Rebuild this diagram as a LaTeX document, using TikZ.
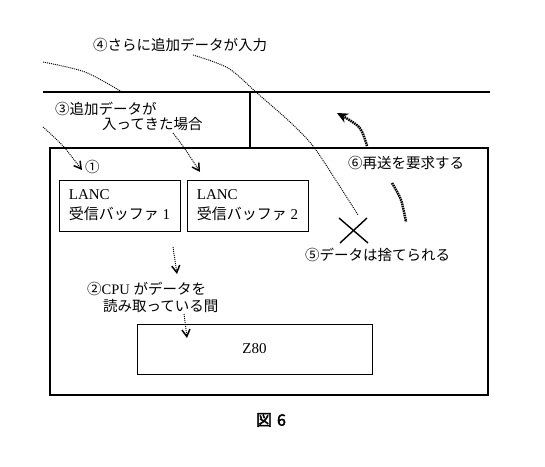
\documentclass[tikz,border=0pt]{standalone}
\usepackage{fontspec}
\setmainfont{Liberation Serif}
\newfontfamily\cjk{Noto Sans CJK JP}
\newfontfamily\cjkb[FakeBold=2.5]{Noto Sans CJK JP}
\usetikzlibrary{arrows.meta}
\begin{document}
\begin{tikzpicture}[x=1pt,y=-1pt,
  lbl/.style={anchor=west,inner sep=0pt,font=\fontsize{14.5}{18}\selectfont},
  bufbox/.style={draw,line width=0.9pt,minimum width=121pt,minimum height=51pt,align=left,inner sep=0pt,font=\fontsize{15}{20}\selectfont},
  cpubox/.style={draw,line width=0.9pt,minimum width=235pt,minimum height=50pt,inner sep=0pt,font=\fontsize{15}{18}\selectfont},
  thindot/.style={line width=0.95pt,dash pattern=on 1pt off 1pt},
  thickdot/.style={line width=2.5pt,dash pattern=on 1.5pt off 0.8pt},
  arr/.style={-{Straight Barb[length=7pt,width=8pt,line width=1.5pt]}},
  bigarr/.style={-{Stealth[length=11pt,width=10pt]}}]
\useasboundingbox (0,0) rectangle (545,466);
% frame lines
\coordinate (tl) at (43,92);
\coordinate (tr) at (490,92);
\coordinate (vt) at (250,92);
\coordinate (vb) at (250,148);
\draw[line width=2pt] (tl) -- (tr);
\draw[line width=2pt] (vt) -- (vb);
\node[draw,line width=2.6pt,minimum width=438pt,minimum height=247pt,inner sep=0pt] (main) at (269,271.5) {};
% buffers and CPU
\node[bufbox] (buf1) at (119.5,205.5) {LANC\\{\cjk 受信バッファ} 1};
\node[bufbox] (buf2) at (247.5,205.5) {LANC\\{\cjk 受信バッファ} 2};
\node[cpubox] (z80) at (254.5,349) {Z80};
% labels
\node[lbl] (l4) at (93,45) {\cjk ④さらに追加データが入力};
\node[lbl] (l3a) at (55,109) {\cjk ③追加データが};
\node[lbl] (l3b) at (102,124.5) {\cjk 入ってきた場合};
\node[lbl] (l1) at (85,167) {\cjk ①};
\node[lbl] (l2a) at (87,289) {{\cjk ②}CPU {\cjk がデータを}};
\node[lbl] (l2b) at (103,305.5) {\cjk 読み取っている間};
\node[lbl] (l5) at (305,255) {\cjk ⑤データは捨てられる};
\node[lbl] (l6) at (348,163) {\cjk ⑥再送を要求する};
\node[inner sep=0pt,font=\fontsize{16}{18}\selectfont] (fig) at (271,420) {\cjkb 図\hspace{5pt}6};
% dotted paths
\coordinate (a1) at (43,62);
\coordinate (a2) at (85,72);
\coordinate (a3) at (122,92);
\draw[thindot] plot[smooth] coordinates {(a1) (a2) (a3)};
\coordinate (b1) at (193,55);
\coordinate (b2) at (228,68);
\coordinate (b3) at (257,93);
\coordinate (b4) at (290,122);
\coordinate (b5) at (313,146);
\coordinate (b6) at (337,182);
\coordinate (b7) at (358,215);
\draw[thindot] plot[smooth] coordinates {(b1) (b2) (b3) (b4) (b5) (b6) (b7)};
\coordinate (c1) at (43,127);
\coordinate (c2) at (63,146);
\coordinate (c3) at (82,170);
\draw[thindot,arr] plot[smooth] coordinates {(c1) (c2) (c3)};
\coordinate (d1) at (173,133);
\coordinate (d2) at (185,149);
\coordinate (d3) at (200,172);
\draw[thindot,arr] plot[smooth] coordinates {(d1) (d2) (d3)};
\coordinate (e1) at (173,247);
\coordinate (e2) at (177,274);
\draw[thindot,arr] (e1) -- (e2);
\coordinate (f1) at (184,314);
\coordinate (f2) at (187,338);
\draw[thindot,arr] (f1) -- (f2);
% X mark
\coordinate (x1) at (339,218);
\coordinate (x2) at (368,243);
\coordinate (x3) at (340,243);
\coordinate (x4) at (367,218);
\draw[line width=1.4pt] (x1) -- (x2);
\draw[line width=1.4pt] (x3) -- (x4);
% resend arrow
\coordinate (g1) at (392,183);
\coordinate (g2) at (401,200);
\coordinate (g3) at (406,222);
\draw[thickdot] plot[smooth] coordinates {(g1) (g2) (g3)};
\coordinate (h1) at (367,146);
\coordinate (h2) at (359,127);
\coordinate (h3) at (337,113);
\draw[thickdot,bigarr] plot[smooth] coordinates {(h1) (h2) (h3)};
\end{tikzpicture}
\end{document}
